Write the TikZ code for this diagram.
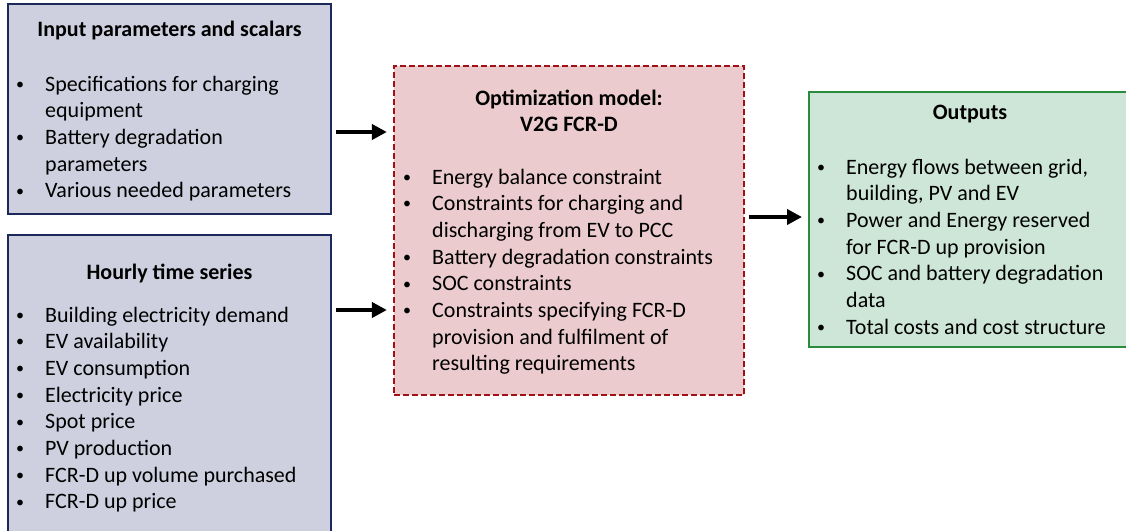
\documentclass[tikz,border=0pt]{standalone}
\usepackage{fontspec}
\setmainfont{Carlito}
\usetikzlibrary{arrows.meta}

\definecolor{inFill}{RGB}{206,208,223}
\definecolor{inLine}{RGB}{28,40,90}
\definecolor{optFill}{RGB}{235,203,205}
\definecolor{optLine}{RGB}{160,16,20}
\definecolor{outFill}{RGB}{205,230,216}
\definecolor{outLine}{RGB}{40,140,60}

\newcommand\fs{\fontsize{22}{26.7}\selectfont}
% small list bullet, hung to the left of the item text
\newcommand\itm{\llap{\raisebox{1.8pt}{\fontsize{16}{16}\selectfont\textbullet}\hspace{21pt}}}

\tikzset{
  inbox/.style={draw=inLine, fill=inFill, line width=2pt, inner sep=0pt},
  optbox/.style={draw=optLine, fill=optFill, line width=2.2pt, dash pattern=on 6pt off 3pt, inner sep=0pt},
  outbox/.style={draw=outLine, fill=outFill, line width=2pt, inner sep=0pt},
  ttl/.style={inner sep=0pt, anchor=base, font=\fs\bfseries},
  lst/.style={inner sep=0pt, anchor=base west, font=\fs},
  arr/.style={line width=4pt, -{Triangle[length=15pt,width=15pt]}, shorten <=4pt, shorten >=6pt}
}

\begin{document}
\begin{tikzpicture}[x=1pt, y=-1pt]
\useasboundingbox (0,0) rectangle (1126,530);
\fill[white] (0,0) rectangle (1126,530);
\clip (0,0) rectangle (1126,530);

% boxes
\node[inbox, minimum width=323pt, minimum height=210pt] (inp) at (169.5,109) {};
\node[inbox, minimum width=323pt, minimum height=310pt] (ts) at (169.5,390) {};
\node[optbox, minimum width=350pt, minimum height=329pt] (opt) at (569,230.5) {};
\node[outbox, minimum width=323pt, minimum height=255pt] (out) at (970.5,219.5) {};

% input parameters
\node[ttl] (inpT) at (169.5,36) {Input parameters and scalars};
\node[lst] (inpL) at (45,91) {\begin{tabular}[t]{@{}l@{}}
\itm Specifications for charging\\
equipment\\
\itm Battery degradation\\
parameters\\
\itm Various needed parameters
\end{tabular}};

% hourly time series
\node[ttl] (tsT) at (169.5,279) {Hourly time series};
\node[lst] (tsL) at (45,322) {\begin{tabular}[t]{@{}l@{}}
\itm Building electricity demand\\
\itm EV availability\\
\itm EV consumption\\
\itm Electricity price\\
\itm Spot price\\
\itm PV production\\
\itm FCR-D up volume purchased\\
\itm FCR-D up price
\end{tabular}};

% optimization model
\node[ttl] (optT1) at (569,105) {Optimization model:};
\node[ttl] (optT2) at (569,131) {V2G FCR-D};
\node[lst] (optL) at (432,184) {\begin{tabular}[t]{@{}l@{}}
\itm Energy balance constraint\\
\itm Constraints for charging and\\
discharging from EV to PCC\\
\itm Battery degradation constraints\\
\itm SOC constraints\\
\itm Constraints specifying FCR-D\\
provision and fulfilment of\\
resulting requirements
\end{tabular}};

% outputs
\node[ttl] (outT) at (970,119) {Outputs};
\node[lst] (outL) at (846,174) {\begin{tabular}[t]{@{}l@{}}
\itm Energy flows between grid,\\
building, PV and EV\\
\itm Power and Energy reserved\\
for FCR-D up provision\\
\itm SOC and battery degradation\\
data\\
\itm Total costs and cost structure
\end{tabular}};

% connectors
\coordinate (r1) at (0,132);
\coordinate (r2) at (0,310);
\coordinate (r3) at (0,217);
\draw[arr] (inp.east |- r1) -- (opt.west |- r1);
\draw[arr] (ts.east |- r2) -- (opt.west |- r2);
\draw[arr] (opt.east |- r3) -- (out.west |- r3);
\end{tikzpicture}
\end{document}
